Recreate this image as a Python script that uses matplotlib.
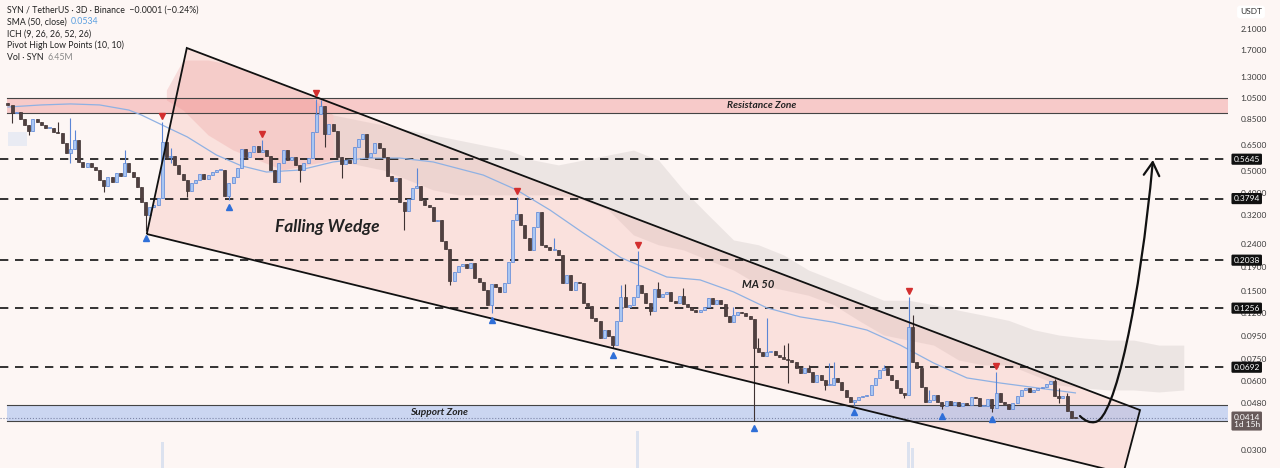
import numpy as np
import matplotlib.pyplot as plt
import matplotlib.transforms as mtransforms
from matplotlib.path import Path
from matplotlib.patches import FancyArrowPatch, Polygon
from matplotlib.ticker import FixedLocator, NullLocator, FuncFormatter

plt.rcParams['font.family'] = ['Lato', 'DejaVu Sans']

# ---------------- data: SYN / USDT, 3D candles (prices in USDT) ----------------
first_open = 0.995
closes = [
    0.976, 0.899, 0.908, 0.846, 0.797, 0.750, 0.846, 0.821, 0.797, 0.773,
    0.773, 0.743, 0.735, 0.664, 0.600, 0.625, 0.685, 0.549, 0.522, 0.543,
    0.522, 0.506, 0.458, 0.431, 0.472, 0.449, 0.491, 0.477, 0.543, 0.496,
    0.472, 0.427, 0.367, 0.321, 0.349, 0.356, 0.382, 0.671, 0.577, 0.583,
    0.533, 0.486, 0.458, 0.410, 0.444, 0.458, 0.486, 0.462, 0.481, 0.496,
    0.506, 0.506, 0.390, 0.444, 0.472, 0.517, 0.625, 0.577, 0.607, 0.645,
    0.607, 0.619, 0.583, 0.506, 0.449, 0.543, 0.619, 0.560, 0.577, 0.533,
    0.506, 0.543, 0.571, 0.743, 0.891, 0.966, 0.728, 0.805, 0.750, 0.577,
    0.538, 0.560, 0.543, 0.638, 0.692, 0.728, 0.577, 0.600, 0.664, 0.632,
    0.577, 0.477, 0.453, 0.467, 0.367, 0.335, 0.378, 0.423, 0.431, 0.374,
    0.356, 0.349, 0.303, 0.306, 0.248, 0.228, 0.165, 0.181, 0.192, 0.196,
    0.188, 0.198, 0.170, 0.163, 0.151, 0.130, 0.160, 0.155, 0.148, 0.162,
    0.200, 0.306, 0.325, 0.291, 0.255, 0.226, 0.285, 0.331, 0.238, 0.233,
    0.226, 0.226, 0.215, 0.162, 0.175, 0.151, 0.163, 0.162, 0.132, 0.128,
    0.114, 0.110, 0.0929, 0.1007, 0.0949, 0.0865, 0.110, 0.141, 0.127, 0.130,
    0.141, 0.159, 0.146, 0.132, 0.122, 0.152, 0.141, 0.145, 0.148, 0.135,
    0.132, 0.142, 0.131, 0.127, 0.1232, 0.121, 0.123, 0.127, 0.139, 0.131,
    0.136, 0.131, 0.116, 0.109, 0.117, 0.121, 0.120, 0.116, 0.112, 0.0840,
    0.0807, 0.0775, 0.0807, 0.0815, 0.0783, 0.0767, 0.0751, 0.0744, 0.0729, 0.0687,
    0.0653, 0.0687, 0.0660, 0.0596, 0.0640, 0.0608, 0.0578, 0.0578, 0.0621, 0.0596,
    0.0550, 0.0513, 0.0487, 0.0497, 0.0513, 0.0518, 0.0523, 0.0578, 0.0621, 0.0673,
    0.0687, 0.0640, 0.0608, 0.0561, 0.0534, 0.0523, 0.104, 0.0729, 0.0687, 0.0567,
    0.0487, 0.0497, 0.0523, 0.0487, 0.0468, 0.0492, 0.0473, 0.0487, 0.0468, 0.0482,
    0.0473, 0.0513, 0.0508, 0.0468, 0.0468, 0.0502, 0.0459, 0.0534, 0.0487, 0.0478,
    0.0454, 0.0482, 0.0518, 0.0550, 0.0561, 0.0539, 0.0550, 0.0561, 0.0567, 0.0584,
    0.0602, 0.0518, 0.0508, 0.0518, 0.0445, 0.0415, 0.0414,
]
# visible wicks (candle index -> price)
wick_high = {1: 0.966, 12: 0.821, 15: 0.856, 16: 0.758, 28: 0.619, 37: 0.821,
             39: 0.632, 61: 0.685, 74: 1.04, 75: 1.026, 98: 0.517, 122: 0.386,
             131: 0.255, 147: 0.159, 148: 0.160, 151: 0.224, 156: 0.163,
             162: 0.154, 174: 0.127, 180: 0.0929, 182: 0.114, 186: 0.0865,
             187: 0.0883, 192: 0.0708, 197: 0.0722, 198: 0.0729, 210: 0.0708,
             216: 0.141, 217: 0.117, 221: 0.0550, 237: 0.0660, 251: 0.0614,
             252: 0.0561, 254: 0.0534}
wick_low = {1: 0.813, 5: 0.721, 15: 0.543, 23: 0.406, 33: 0.273, 34: 0.312,
            39: 0.543, 43: 0.386, 53: 0.374, 70: 0.449, 76: 0.638, 80: 0.467,
            95: 0.276, 106: 0.159, 116: 0.120, 145: 0.0840, 154: 0.117,
            179: 0.0402, 187: 0.0590, 196: 0.0550, 203: 0.0473, 215: 0.0508,
            224: 0.0454, 236: 0.0440, 252: 0.0482}
pivot_highs = [37, 61, 74, 122, 151, 216, 237]
pivot_lows = [33, 53, 116, 145, 179, 203, 224, 236]

# SMA 50
sma_idx = [0, 8, 15, 22, 29, 32, 38, 43, 50, 56, 62, 70, 78, 86, 94, 102, 114,
           122, 130, 138, 147, 158, 166, 174, 182, 190, 198, 206, 214, 222, 230,
           238, 249, 256]
sma_val = [0.956, 0.976, 0.986, 0.976, 0.927, 0.882, 0.781, 0.707, 0.589, 0.528,
           0.496, 0.506, 0.549, 0.571, 0.571, 0.549, 0.481, 0.414, 0.338, 0.268,
           0.209, 0.172, 0.167, 0.148, 0.126, 0.115, 0.109, 0.1007, 0.0865,
           0.0722, 0.0621, 0.0590, 0.0555, 0.0534]

# Ichimoku cloud (approximate spans)
cloud_blue_idx = [0, 4.5]
cloud_blue_top = [0.743, 0.743]
cloud_blue_bot = [0.645, 0.645]
cloud_red_idx = [38, 42, 48, 54, 60, 66, 72, 78]
cloud_red_top = [1.135, 1.536, 1.536, 1.460, 1.320, 1.194, 1.079, 0.882]
cloud_red_bot = [1.026, 0.927, 0.721, 0.619, 0.560, 0.506, 0.533, 0.560]
cloud_idx = [78, 84, 90, 96, 102, 108, 114, 120, 126, 132, 138, 144, 150, 156,
             162, 168, 174, 180, 186, 192, 198, 204, 210, 216, 222, 228, 234,
             240, 246, 252, 258, 264, 270, 276, 282]
cloud_top = [0.882, 0.838, 0.797, 0.758, 0.721, 0.685, 0.651, 0.619, 0.560, 0.533,
             0.560, 0.589, 0.619, 0.560, 0.414, 0.321, 0.250, 0.238, 0.215, 0.1845,
             0.167, 0.151, 0.136, 0.136, 0.130, 0.123, 0.117, 0.111, 0.101, 0.0958,
             0.0929, 0.0910, 0.0910, 0.0865, 0.0865]
cloud_bot = [0.560, 0.533, 0.506, 0.458, 0.414, 0.394, 0.394, 0.394, 0.394, 0.394,
             0.374, 0.338, 0.263, 0.238, 0.226, 0.204, 0.1845, 0.159, 0.151, 0.143,
             0.130, 0.111, 0.0958, 0.0910, 0.0865, 0.0744, 0.0708, 0.0708, 0.0640,
             0.0578, 0.0561, 0.0550, 0.0550, 0.0539, 0.0550]

# volume (millions) - only the visible spikes
vol_idx = [37, 151, 216, 217]
vol_m = [52, 74, 52, 40]

# drawings
levels = [0.5645, 0.3794, 0.2038, 0.1256, 0.0692]
resistance = (0.899, 1.047)
support = (0.0402, 0.0473)
last_price = 0.0414
wedge_idx = [33.3, 42.9, 271.5, 267.5]
wedge_px = [0.2654, 1.734, 0.0449, 0.02372]
arrow_idx = [257.1, 258.3, 259.5, 260.7, 265.5, 271.5, 274.6]
arrow_px = [0.0423, 0.0402, 0.0394, 0.0398, 0.0406, 0.1363, 0.560]
yticks = [2.1, 1.7, 1.3, 1.05, 0.85, 0.65, 0.5, 0.4, 0.32, 0.24, 0.19, 0.15,
          0.12, 0.095, 0.075, 0.06, 0.048, 0.03]

# ---------------- figure ----------------
bg = '#fdf6f4'
W, H = 1280, 468
fig = plt.figure(figsize=(W / 100, H / 100), dpi=100, facecolor=bg)
ax = fig.add_axes([0, 0, 1228 / W, 1])
ax.set_facecolor(bg)
ax.set_yscale('log')

# volume on a twin axis
ax2 = ax.twinx()
ax2.set_ylim(0, 936)
ax2.bar(vol_idx, vol_m, width=0.7, color='#9fbde8', alpha=0.35, zorder=1)
ax2.set_axis_off()

# cloud
ax.fill_between(cloud_blue_idx, cloud_blue_bot, cloud_blue_top, color='#bcd3f2', alpha=0.3, lw=0, zorder=1)
ax.fill_between(cloud_red_idx, cloud_red_bot, cloud_red_top, color='#e57f7f', alpha=0.22, lw=0, zorder=1)
ax.fill_between(cloud_idx, cloud_bot, cloud_top, color='#b9b0b0', alpha=0.24, lw=0, zorder=1)

# falling wedge
wedge = list(zip(wedge_idx, wedge_px))
ax.add_patch(Polygon(wedge, closed=True, fc='#f3a39a', alpha=0.25, ec='none', zorder=1.5))
ax.add_patch(Polygon(wedge, closed=True, fill=False, ec='#111111', lw=1.3, zorder=5))

# zones
x0 = 7 / 1228
ax.axhspan(*resistance, xmin=x0, color='#f08a8a', alpha=0.4, lw=0, zorder=2)
ax.axhspan(*support, xmin=x0, color='#8fb0ee', alpha=0.45, lw=0, zorder=2)
for v in resistance + support:
    ax.axhline(v, xmin=x0, color='#444444', lw=0.8, zorder=2.2)
ax.axhline(last_price, color='#7d86a8', lw=0.8, ls=':', zorder=2.3)

# horizontal levels
for lvl in levels:
    ax.axhline(lvl, color='#111111', lw=1.2, dashes=(5, 4), zorder=3)

# SMA
ax.plot(sma_idx, sma_val, color='#8fb1e3', lw=0.9, zorder=3.5)

# candles
closes = np.array(closes)
opens = np.r_[first_open, closes[:-1]]
idx = np.arange(len(closes))
highs = np.maximum(opens, closes)
lows = np.minimum(opens, closes)
for i, v in wick_high.items():
    highs[i] = v
for i, v in wick_low.items():
    lows[i] = v
up = closes >= opens
body_lo = np.minimum(opens, closes)
body_hi = np.maximum(np.maximum(opens, closes), body_lo * 1.01)
ax.vlines(idx[up], lows[up], highs[up], color='#5b86d6', lw=0.8, zorder=4)
ax.vlines(idx[~up], lows[~up], highs[~up], color='#3e3232', lw=0.8, zorder=4)
ax.bar(idx[up], body_hi[up] - body_lo[up], bottom=body_lo[up], width=0.72,
       color='#a9c6f2', edgecolor='#5b86d6', linewidth=0.5, zorder=4.1)
ax.bar(idx[~up], body_hi[~up] - body_lo[~up], bottom=body_lo[~up], width=0.72,
       color='#504040', edgecolor='#3e3232', linewidth=0.5, zorder=4.1)

# pivot markers
up_off = mtransforms.offset_copy(ax.transData, fig=fig, y=6, units='dots')
dn_off = mtransforms.offset_copy(ax.transData, fig=fig, y=-7, units='dots')
ax.plot(pivot_highs, highs[pivot_highs], 'v', color='#d32f2f', ms=4.5, transform=up_off, zorder=6, clip_on=False)
ax.plot(pivot_lows, lows[pivot_lows], '^', color='#2f6fd8', ms=4.5, transform=dn_off, zorder=6, clip_on=False)

# arrow
codes = [Path.MOVETO] + [Path.CURVE4] * 6
arr = FancyArrowPatch(path=Path(list(zip(arrow_idx, arrow_px)), codes),
                      arrowstyle='->,head_length=0.6,head_width=0.35',
                      mutation_scale=16, lw=1.6, color='#111111', zorder=6)
ax.add_patch(arr)

# labels on chart
lab = dict(fontweight='bold', fontstyle='italic', color='#222222', ha='center', va='center', zorder=7)
ax.text(180.8, 0.970, 'Resistance Zone', fontsize=7.3, **lab)
ax.text(103.4, 0.0436, 'Support Zone', fontsize=7.3, **lab)
ax.text(76.7, 0.285, 'Falling Wedge', fontsize=12.5, **lab)
ax.text(179.9, 0.159, 'MA 50', fontsize=8, **lab)

# axes
ax.set_xlim(-1.9, 292.6)
ax.set_ylim(0.02503, 2.814)
ax.set_xticks([])
ax.yaxis.tick_right()
ax.yaxis.set_major_locator(FixedLocator(yticks))
ax.yaxis.set_minor_locator(NullLocator())
ax.yaxis.set_major_formatter(FuncFormatter(lambda v, p: f'{v:.4f}'))
ax.tick_params(axis='y', length=0, pad=9, labelsize=6, labelcolor='#3a3a3a')
for s in ax.spines.values():
    s.set_visible(False)

# boxed price labels
blend = mtransforms.blended_transform_factory(ax.transAxes, ax.transData)
for lvl in levels:
    ax.text(1.0045, lvl, f'{lvl:.4f}', transform=blend, fontsize=6, color='white',
            ha='left', va='center', clip_on=False, zorder=10,
            bbox=dict(boxstyle='round,pad=0.25,rounding_size=0.15', fc='#111111', ec='none'))
ax.text(1.0045, 0.0402, f'{last_price:.4f}\n1d 15h', transform=blend, fontsize=6,
        color='white', ha='left', va='center', linespacing=1.15, clip_on=False, zorder=10,
        bbox=dict(boxstyle='round,pad=0.25,rounding_size=0.15', fc='#675a5a', ec='none'))
fig.text(1240 / W, 1 - 12 / H, 'USDT', fontsize=6, color='#333333', ha='left', va='center',
         bbox=dict(boxstyle='round,pad=0.35', fc='white', ec='none'))

# legend lines
renderer = fig.canvas.get_renderer()
legend = [
    (10, [('SYN / TetherUS · 3D · Binance  −0.0001 (−0.24%)', '#222222')]),
    (22, [('SMA (50, close)', '#222222'), ('0.0534', '#5a9fe0')]),
    (34, [('ICH (9, 26, 26, 52, 26)', '#222222')]),
    (45.5, [('Pivot High Low Points (10, 10)', '#222222')]),
    (57, [('Vol · SYN', '#222222'), ('6.45M', '#888888')]),
]
for ypx, parts in legend:
    xpx = 7
    for s, col in parts:
        t = fig.text(xpx / W, 1 - ypx / H, s, color=col, fontsize=6.3, va='center', ha='left')
        xpx = t.get_window_extent(renderer).x1 + 4

fig.savefig('out.png', dpi=100, facecolor=bg)
